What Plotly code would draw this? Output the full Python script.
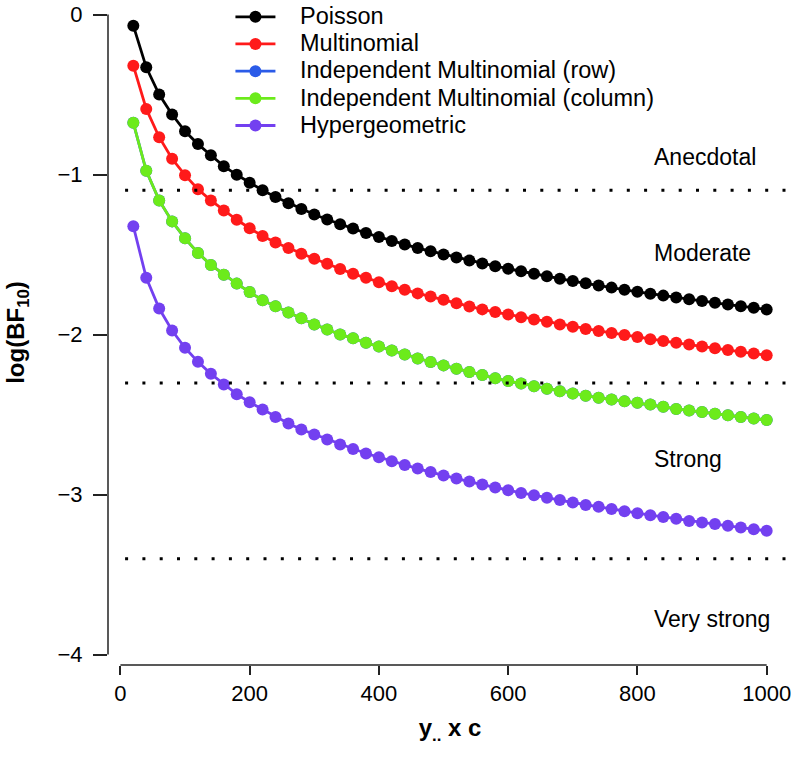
import plotly.graph_objects as go

x_vals = list(range(20, 1001, 20))

poisson = [-0.07, -0.33, -0.50, -0.625, -0.73, -0.81, -0.88, -0.948, -1.002, -1.052,
           -1.098, -1.141, -1.179, -1.216, -1.25, -1.281, -1.311, -1.338, -1.366, -1.39,
           -1.415, -1.437, -1.46, -1.479, -1.5, -1.519, -1.538, -1.556, -1.573, -1.589,
           -1.605, -1.621, -1.636, -1.651, -1.666, -1.68, -1.694, -1.707, -1.72, -1.733,
           -1.745, -1.757, -1.769, -1.78, -1.791, -1.802, -1.813, -1.823, -1.833, -1.844]

multinomial = [-0.32, -0.59, -0.767, -0.902, -1.004, -1.092, -1.162, -1.225, -1.283, -1.336,
               -1.384, -1.425, -1.46, -1.496, -1.527, -1.558, -1.59, -1.621, -1.646, -1.673,
               -1.698, -1.721, -1.743, -1.763, -1.783, -1.804, -1.825, -1.843, -1.86, -1.875,
               -1.892, -1.906, -1.921, -1.937, -1.951, -1.965, -1.978, -1.99, -2.003, -2.016,
               -2.029, -2.041, -2.052, -2.063, -2.075, -2.086, -2.097, -2.108, -2.119, -2.129]

indep_col = [-0.677, -0.977, -1.162, -1.293, -1.399, -1.49, -1.565, -1.626, -1.682, -1.735,
             -1.786, -1.823, -1.862, -1.899, -1.937, -1.969, -2.0, -2.024, -2.052, -2.075,
             -2.1, -2.125, -2.15, -2.172, -2.193, -2.214, -2.235, -2.253, -2.274, -2.291,
             -2.306, -2.323, -2.339, -2.354, -2.369, -2.383, -2.396, -2.406, -2.417, -2.427,
             -2.438, -2.452, -2.465, -2.475, -2.485, -2.496, -2.505, -2.515, -2.525, -2.535]

# the row series is drawn underneath the column series and is fully hidden by it
indep_row = list(indep_col)

hypergeometric = [-1.323, -1.646, -1.838, -1.975, -2.083, -2.171, -2.246, -2.312, -2.373, -2.423,
                  -2.469, -2.515, -2.556, -2.594, -2.625, -2.656, -2.687, -2.715, -2.744, -2.767,
                  -2.792, -2.815, -2.838, -2.86, -2.881, -2.9, -2.919, -2.938, -2.956, -2.973,
                  -2.99, -3.004, -3.021, -3.035, -3.05, -3.065, -3.077, -3.09, -3.104, -3.117,
                  -3.129, -3.14, -3.152, -3.165, -3.175, -3.185, -3.196, -3.206, -3.217, -3.227]

series_names = ["Poisson", "Multinomial", "Independent Multinomial (row)",
                "Independent Multinomial (column)", "Hypergeometric"]
series_values = [poisson, multinomial, indep_row, indep_col, hypergeometric]
series_colors = ["#000000", "#FF1A1A", "#2B5BE8", "#6CEB1B", "#7340F0"]

thresholds = [-1.0986, -2.3026, -3.4012]
evidence_labels = ["Anecdotal", "Moderate", "Strong", "Very strong"]
evidence_y = [-0.8875, -1.4875, -2.78, -3.78]
evidence_x = 822

x_ticks = [0, 200, 400, 600, 800, 1000]
y_ticks = [0, -1, -2, -3, -4]

FONT = "Liberation Sans, Arial, Helvetica, sans-serif"
PAD = "\u00a0\u00a0\u00a0"

fig = go.Figure()
for name, vals, col in zip(series_names, series_values, series_colors):
    fig.add_trace(go.Scatter(
        x=x_vals, y=vals, mode="lines+markers",
        name='<span style="font-size:23.5px">' + PAD + name + "</span>",
        line=dict(color=col, width=2.8),
        marker=dict(color=col, size=12, line=dict(width=0)),
    ))

shapes = []
for t in thresholds:
    shapes.append(dict(type="line", xref="paper", yref="y", x0=0.025, x1=1.0, y0=t, y1=t,
                       line=dict(color="black", width=3, dash="3px,14.3px")))
# axis lines spanning only the tick range (R style)
shapes.append(dict(type="line", xref="x", yref="paper", x0=x_ticks[0], x1=x_ticks[-1], y0=0, y1=0,
                   line=dict(color="#222", width=1.5)))
shapes.append(dict(type="line", xref="paper", yref="y", x0=0, x1=0, y0=y_ticks[-1], y1=y_ticks[0],
                   line=dict(color="#222", width=1.5)))

annotations = []
for lab, yv in zip(evidence_labels, evidence_y):
    annotations.append(dict(x=evidence_x, y=yv, xref="x", yref="y", text=lab, showarrow=False,
                            xanchor="left", yanchor="middle",
                            font=dict(family=FONT, size=23, color="black")))

fig.update_layout(
    width=799, height=772,
    margin=dict(l=108, r=7, t=0, b=107, autoexpand=False),
    paper_bgcolor="white", plot_bgcolor="white",
    font=dict(family=FONT, size=22, color="black"),
    showlegend=True,
    legend=dict(x=0.179, y=1.0027, xanchor="left", yanchor="top",
                bgcolor="rgba(0,0,0,0)", borderwidth=0,
                font=dict(family=FONT, size=18.6, color="black"),
                itemwidth=40, tracegroupgap=0),
    shapes=shapes,
    annotations=annotations,
)
fig.update_xaxes(range=[-19.2, 1039.2], tickvals=x_ticks, ticks="outside", ticklen=9,
                 tickwidth=1.5, tickcolor="#222", showline=False, showgrid=False, zeroline=False,
                 tickfont=dict(family=FONT, size=22), ticklabelstandoff=0, ticklabeloverflow="allow",
                 title=dict(text="<b>y<sub>..</sub> x c</b>", font=dict(family=FONT, size=24), standoff=13))
fig.update_yaxes(range=[-4.0656, 0.0906], tickvals=y_ticks, ticks="outside", ticklen=14,
                 tickwidth=1.5, tickcolor="#222", showline=False, showgrid=False, zeroline=False,
                 tickfont=dict(family=FONT, size=22), ticklabelstandoff=6, ticklabeloverflow="allow",
                 title=dict(text="<b>log(BF<sub>10</sub>)</b>", font=dict(family=FONT, size=24), standoff=26))

# remove the browser's default 8px page margin so the figure fills the window exactly
fig.write_html("out.html", config={"displayModeBar": False},
               post_script="document.body.style.margin='0px';")
